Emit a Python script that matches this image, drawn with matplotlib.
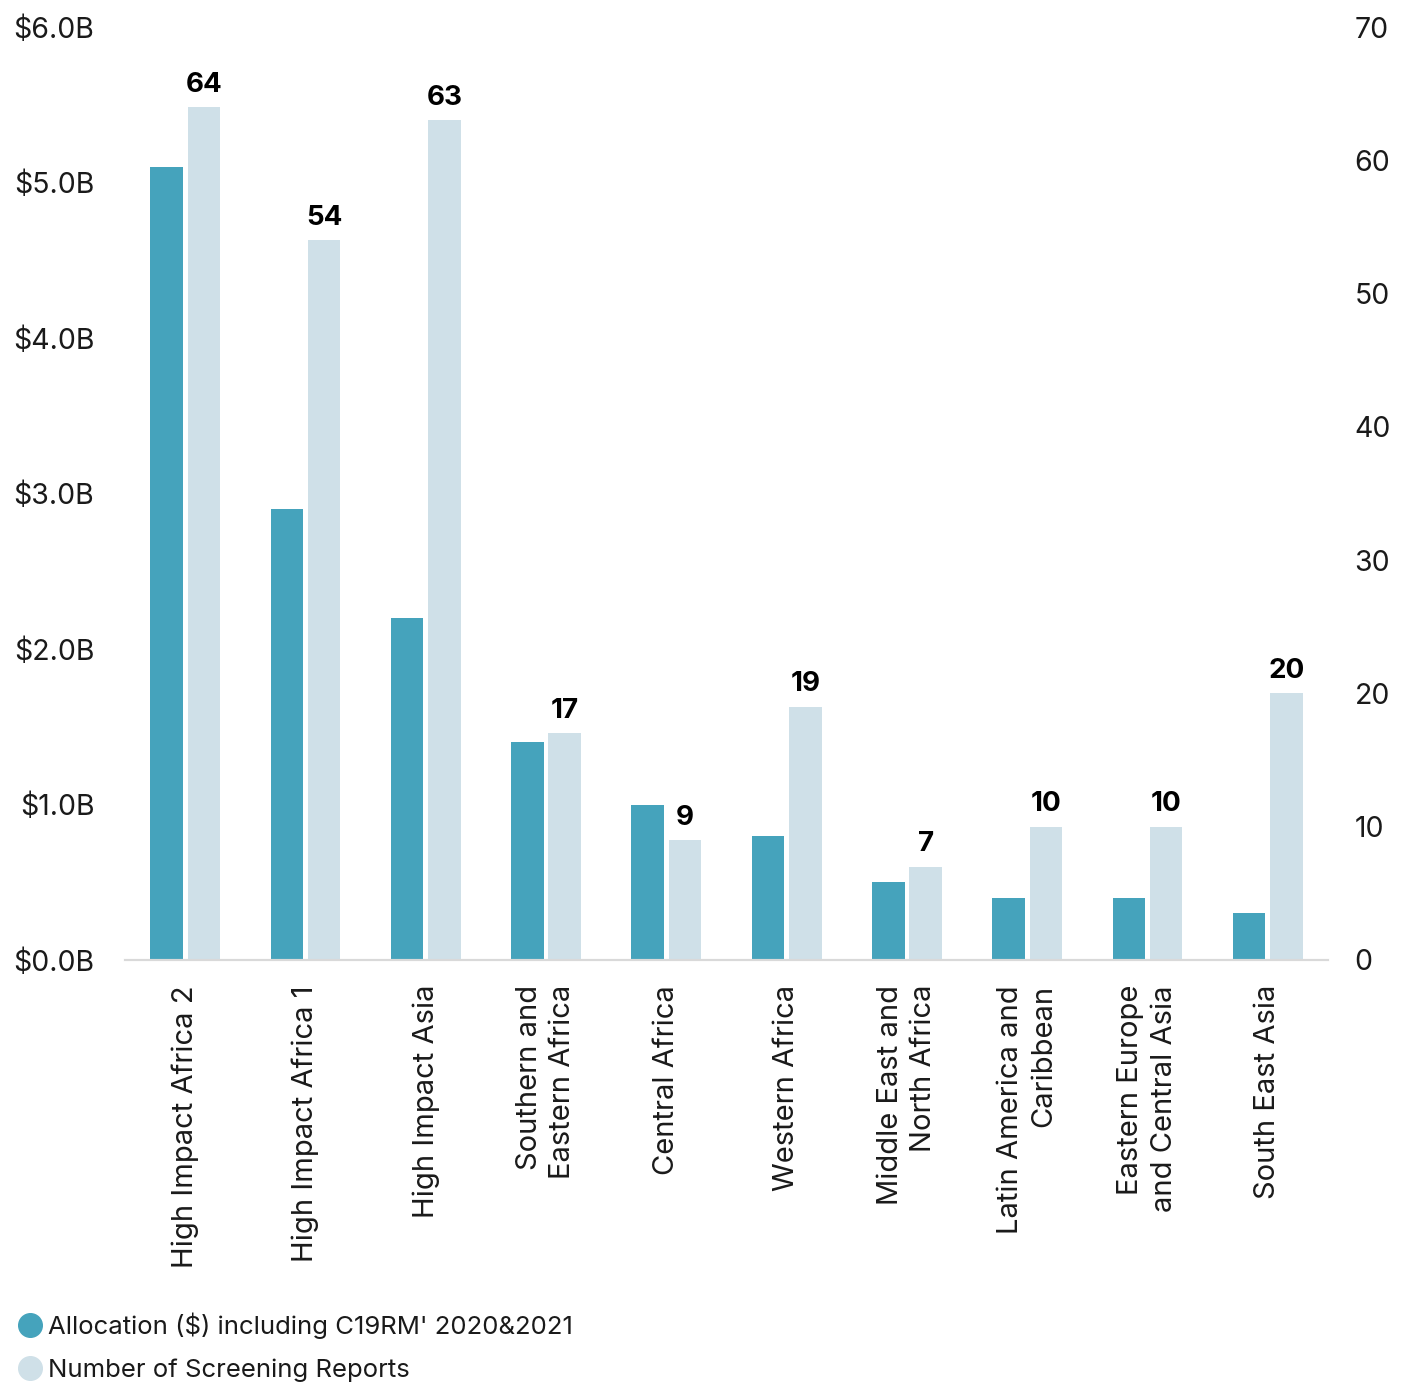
import matplotlib
matplotlib.use("Agg")
import matplotlib.pyplot as plt
from matplotlib.lines import Line2D
import numpy as np

plt.rcParams["font.family"] = ["Inter", "DejaVu Sans"]

regions = ["High Impact Africa 2", "High Impact Africa 1", "High Impact Asia",
           "Southern and\nEastern Africa", "Central Africa", "Western Africa",
           "Middle East and\nNorth Africa", "Latin America and\nCaribbean",
           "Eastern Europe\nand Central Asia", "South East Asia"]
allocation_b = [5.1, 2.9, 2.2, 1.4, 1.0, 0.8, 0.5, 0.4, 0.4, 0.3]   # $ billions
reports = [64, 54, 63, 17, 9, 19, 7, 10, 10, 20]
left_ticks = [0, 1, 2, 3, 4, 5, 6]
right_ticks = [0, 10, 20, 30, 40, 50, 60, 70]

dark = "#45a3bc"
light = "#cfe0e8"
txt = "#1a1a1a"

fig = plt.figure(figsize=(14.06, 13.89), dpi=100)
ax1 = fig.add_axes([125 / 1406, 1 - 960 / 1389, 1203 / 1406, 933 / 1389])
ax2 = ax1.twinx()

x = np.arange(len(regions))
w = 0.27
off = 0.155
ax1.bar(x - off, allocation_b, w, color=dark, zorder=2)
ax2.bar(x + off, reports, w, color=light, zorder=2)
for xi, v in zip(x, reports):
    ax2.text(xi + off, v + 0.7, str(v), ha="center", va="bottom",
             fontsize=20, fontweight="bold", color="black")

ax1.set_xlim(-0.5, len(regions) - 0.5)
ax1.set_ylim(0, 6)
ax2.set_ylim(0, 70)
ax1.set_yticks(left_ticks)
ax1.set_yticklabels([f"${t:.1f}B" for t in left_ticks])
ax2.set_yticks(right_ticks)
ax1.set_xticks(x)
ax1.set_xticklabels(regions, rotation=90, ha="center", va="top",
                    multialignment="right", linespacing=1.3)

for a in (ax1, ax2):
    for s in ("top", "left", "right"):
        a.spines[s].set_visible(False)
    a.spines["bottom"].set_color("#d9d9d9")
    a.spines["bottom"].set_linewidth(1.5)
ax1.tick_params(axis="y", length=0, pad=22, labelsize=20.5, labelcolor=txt)
ax2.tick_params(axis="y", length=0, pad=19, labelsize=20.5, labelcolor=txt)
ax1.tick_params(axis="x", length=0, pad=18, labelsize=21, labelcolor=txt)

handles = [Line2D([], [], marker="o", ls="", color=dark, markersize=17),
           Line2D([], [], marker="o", ls="", color=light, markersize=17)]
fig.legend(handles, ["Allocation ($) including C19RM' 2020&2021",
                     "Number of Screening Reports"],
           loc="lower left", bbox_to_anchor=(0.0, -0.006), frameon=False,
           fontsize=18.5, handletextpad=0.15, labelspacing=0.75,
           borderaxespad=0.2, handlelength=1.1, labelcolor=txt)

fig.savefig("out.png", dpi=100)
